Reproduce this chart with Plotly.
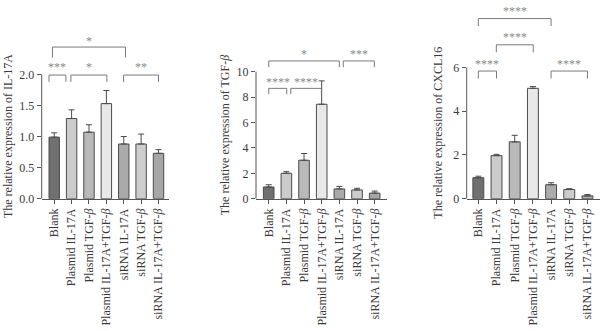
import plotly.graph_objects as go

categories = ["Blank", "Plasmid IL-17A", "Plasmid TGF-<i>β</i>", "Plasmid IL-17A+TGF-<i>β</i>",
              "siRNA IL-17A", "siRNA TGF-<i>β</i>", "siRNA IL-17A+TGF-<i>β</i>"]
bar_colors = ["#707070", "#cbcbcb", "#b9b9b9", "#e8e8e8", "#aaaaaa", "#cdcdcd", "#a6a6a6"]

il17a_mean = [0.99, 1.29, 1.07, 1.53, 0.88, 0.88, 0.73]
il17a_err = [0.07, 0.14, 0.12, 0.21, 0.12, 0.16, 0.06]
tgfb_mean = [0.92, 2.00, 3.03, 7.44, 0.77, 0.69, 0.44]
tgfb_err = [0.18, 0.13, 0.53, 1.84, 0.20, 0.13, 0.16]
cxcl16_mean = [0.96, 1.97, 2.60, 5.05, 0.64, 0.42, 0.13]
cxcl16_err = [0.07, 0.06, 0.30, 0.08, 0.09, 0.04, 0.06]

titles = ["The relative expression of IL-17A", "The relative expression of TGF-<i>β</i>",
          "The relative expression of CXCL16"]
ytickvals = [[0, 0.5, 1.0, 1.5, 2.0], [0, 2, 4, 6, 8, 10], [0, 2, 4, 6]]
yticktext = [["0.0", "0.5", "1.0", "1.5", "2.0"], ["0", "2", "4", "6", "8", "10"], ["0", "2", "4", "6"]]

# significance brackets: (x_start, x_end, y_bar, y_tick_end, label, y_label)
brackets = [
    [(-0.1, 4.1, 2.44, 2.27, "*", 2.58),
     (-0.3, 0.67, 1.99, 1.88, "***", 2.17),
     (0.96, 3.03, 1.99, 1.88, "*", 2.17),
     (3.99, 6.0, 1.99, 1.88, "**", 2.17)],
    [(0.0, 4.0, 10.85, 10.36, "*", 11.6),
     (4.22, 5.98, 10.85, 10.36, "***", 11.6),
     (0.0, 1.02, 8.69, 8.23, "****", 9.45),
     (1.25, 2.98, 8.69, 8.23, "****", 9.45)],
    [(0.0, 4.0, 8.24, 7.9, "****", 8.74),
     (0.99, 3.02, 7.04, 6.7, "****", 7.52),
     (0.0, 1.0, 5.84, 5.5, "****", 6.32),
     (4.0, 6.0, 5.84, 5.5, "****", 6.32)],
]

means = [il17a_mean, tgfb_mean, cxcl16_mean]
errs = [il17a_err, tgfb_err, cxcl16_err]
x_domains = [[41.7 / 600, 169.3 / 600], [256 / 600, 386.7 / 600], [466.7 / 600, 1.0]]
x_ranges = [[-0.72, 6.62], [-0.72, 6.68], [-0.64, 6.69]]
y_ranges = [[0, 3.197], [0, 15.65], [0, 9.09]]
title_x = [7.5 / 600, 225 / 600, 438.5 / 600]
title_y = [1.0, 5.0, 3.0]

FONT = "Liberation Serif, Times New Roman, serif"
TXT = "#3a3a3a"
AX = "#555555"

fig = go.Figure()
shapes = []
annotations = []
layout = {}
xs = list(range(len(categories)))

for i in range(3):
    xa = "x" if i == 0 else f"x{i+1}"
    ya = "y" if i == 0 else f"y{i+1}"
    fig.add_trace(go.Bar(
        x=xs, y=means[i], xaxis=xa, yaxis=ya, width=0.6,
        marker=dict(color=bar_colors, line=dict(color="#4a4a4a", width=1)),
        error_y=dict(type="data", symmetric=False, array=errs[i], arrayminus=[0] * 7,
                     color="#4a4a4a", thickness=1, width=3),
        showlegend=False,
    ))
    xkey = "xaxis" if i == 0 else f"xaxis{i+1}"
    ykey = "yaxis" if i == 0 else f"yaxis{i+1}"
    layout[xkey] = dict(
        domain=x_domains[i], range=x_ranges[i], anchor=ya,
        tickvals=xs, ticktext=categories, tickangle=-90,
        showline=True, linecolor=AX, linewidth=1,
        ticks="outside", ticklen=4, tickcolor=AX, tickwidth=1,
        showgrid=False, zeroline=False,
        tickfont=dict(family=FONT, size=12, color=TXT),
    )
    layout[ykey] = dict(
        domain=[128 / 331, 1.0], range=y_ranges[i], anchor=xa,
        tickvals=ytickvals[i], ticktext=yticktext[i],
        showline=False, ticks="outside", ticklen=4, tickcolor=AX, tickwidth=1,
        showgrid=False, zeroline=False,
        tickfont=dict(family=FONT, size=12, color=TXT),
    )
    # y axis line up to last tick
    shapes.append(dict(type="line", xref=f"{xa} domain", yref=ya, x0=0, x1=0,
                       y0=0, y1=ytickvals[i][-1], line=dict(color=AX, width=1)))
    # y axis title
    annotations.append(dict(text=titles[i], xref="paper", yref=ya, x=title_x[i], y=title_y[i],
                            textangle=-90, showarrow=False, xanchor="center", yanchor="middle",
                            font=dict(family=FONT, size=12, color=TXT)))
    for (x0, x1, yb, yt, lab, yl) in brackets[i]:
        shapes.append(dict(type="path", xref=xa, yref=ya,
                           path=f"M {x0},{yt} L {x0},{yb} L {x1},{yb} L {x1},{yt}",
                           line=dict(color="#7a7a7a", width=1)))
        annotations.append(dict(text=lab, xref=xa, yref=ya, x=(x0 + x1) / 2, y=yl,
                                showarrow=False, xanchor="center", yanchor="middle", yshift=-3,
                                font=dict(family=FONT, size=12, color="#8a8a8a")))

fig.update_layout(
    width=600, height=331,
    margin=dict(l=0, r=0, t=0, b=0),
    paper_bgcolor="white", plot_bgcolor="white",
    shapes=shapes, annotations=annotations,
    **layout,
)

fig.write_html("out.html")
